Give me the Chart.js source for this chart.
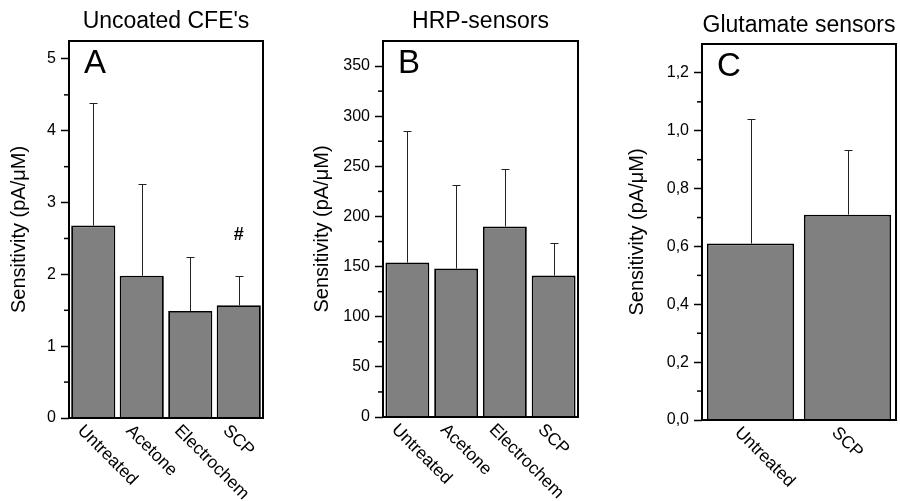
<!DOCTYPE html>
<html lang="en">
<head>
<meta charset="UTF-8">
<title>Sensitivity</title>
<script src="https://cdn.jsdelivr.net/npm/chart.js"></script>
<style>
  body { margin: 0; background: #fff; }
  #wrap { position: relative; width: 900px; height: 501px; }
  canvas { position: absolute; top: 0; }
</style>
</head>
<body>
<div id="wrap">
  <canvas id="chartA" width="300" height="501" style="left:0px"></canvas>
  <canvas id="chartB" width="300" height="501" style="left:300px"></canvas>
  <canvas id="chartC" width="300" height="501" style="left:600px"></canvas>
</div>
<script>
// Panel A - uncoated carbon fibre electrodes
const catsA = ['Untreated', 'Acetone', 'Electrochem', 'SCP'];
const meanA = [2.68, 1.98, 1.49, 1.57];
const sdA = [1.70, 1.28, 0.75, 0.41];
const ticksA = [0, 1, 2, 3, 4, 5];
const hashA = { index: 3, value: 2.55 }; // "#" above SCP

// Panel B - HRP sensors
const catsB = ['Untreated', 'Acetone', 'Electrochem', 'SCP'];
const meanB = [154, 148, 190, 141];
const sdB = [131, 83, 57, 33];
const ticksB = [0, 50, 100, 150, 200, 250, 300, 350];

// Panel C - glutamate sensors
const catsC = ['Untreated', 'SCP'];
const meanC = [0.61, 0.71];
const sdC = [0.43, 0.225];
const ticksC = [0, 0.2, 0.4, 0.6, 0.8, 1.0, 1.2];

const FONT = 'Arial, "Liberation Sans", sans-serif';
Chart.defaults.font.family = FONT;
Chart.defaults.color = '#000';

// error bars, minor ticks, frame, rotated labels, panel letter
const deco = {
  id: 'deco',
  afterDatasetsDraw(chart, args, o) {
    const ctx = chart.ctx;
    const a = chart.chartArea;
    const x = chart.scales.x, y = chart.scales.y;
    const means = chart.data.datasets[0].data;
    ctx.save();

    // upper error bars
    ctx.strokeStyle = '#222';
    ctx.lineWidth = 1;
    means.forEach((m, i) => {
      const px = Math.round(x.getPixelForValue(i)) + 0.5;
      const y0 = y.getPixelForValue(m);
      const y1 = Math.round(y.getPixelForValue(m + o.sd[i])) + 0.5;
      ctx.beginPath();
      ctx.moveTo(px, y0);
      ctx.lineTo(px, y1);
      ctx.moveTo(px - 4, y1);
      ctx.lineTo(px + 4, y1);
      ctx.stroke();
    });

    // minor ticks half way between labelled ones
    ctx.strokeStyle = '#000';
    ctx.lineWidth = 1.5;
    for (let i = 0; i < o.ticks.length - 1; i++) {
      const py = y.getPixelForValue((o.ticks[i] + o.ticks[i + 1]) / 2);
      ctx.beginPath();
      ctx.moveTo(a.left - 5, py);
      ctx.lineTo(a.left, py);
      ctx.stroke();
    }

    // frame round the plot
    ctx.lineWidth = 2;
    ctx.strokeRect(a.left, a.top, a.right - a.left, a.bottom - a.top);

    // category labels turned 45 degrees clockwise
    ctx.fillStyle = '#000';
    ctx.font = '17.5px ' + FONT;
    ctx.textAlign = 'left';
    ctx.textBaseline = 'middle';
    chart.data.labels.forEach((lab, i) => {
      ctx.save();
      ctx.translate(x.getPixelForValue(i) - 13, a.bottom + 10);
      ctx.rotate(Math.PI / 4);
      ctx.fillText(lab, 0, 0);
      ctx.restore();
    });

    // panel letter
    ctx.font = '33px ' + FONT;
    ctx.textBaseline = 'alphabetic';
    ctx.fillText(o.letter, a.left + 15, a.top + 32);

    if (o.hash) {
      ctx.font = 'bold 18px ' + FONT;
      ctx.textAlign = 'center';
      ctx.textBaseline = 'middle';
      ctx.fillText('#', x.getPixelForValue(o.hash.index), y.getPixelForValue(o.hash.value));
    }
    ctx.restore();
  }
};

function makePanel(id, cats, means, sds, ticks, p) {
  const ctx = document.getElementById(id).getContext('2d');
  return new Chart(ctx, {
    type: 'bar',
    data: {
      labels: cats,
      datasets: [{
        data: means,
        backgroundColor: '#808080',
        borderColor: '#000',
        borderWidth: 1.8,
        barPercentage: p.barPct,
        categoryPercentage: 1
      }]
    },
    options: {
      responsive: false,
      animation: false,
      layout: { padding: { left: 0, right: p.right, top: 0, bottom: 0 } },
      plugins: {
        legend: { display: false },
        tooltip: { enabled: false },
        title: {
          display: true,
          text: p.title,
          fullSize: false,
          color: '#000',
          font: { size: 23, weight: 'normal' },
          padding: { top: p.titleTop, bottom: p.titleBottom }
        },
        deco: { sd: sds, ticks: ticks, letter: p.letter, hash: p.hash }
      },
      scales: {
        x: {
          afterFit: s => { s.height = p.xHeight; },
          ticks: { display: false },
          grid: { display: false },
          border: { display: false }
        },
        y: {
          min: 0,
          max: p.max,
          afterFit: s => { s.width = p.yWidth; },
          afterBuildTicks: s => { s.ticks = ticks.map(v => ({ value: v })); },
          ticks: {
            color: '#000',
            padding: 5,
            font: { size: 16 },
            callback: p.fmt
          },
          grid: {
            drawOnChartArea: false,
            tickLength: 8,
            tickColor: '#000',
            tickWidth: 1.5
          },
          border: { display: false },
          title: {
            display: true,
            text: 'Sensitivity (pA/μM)',
            color: '#000',
            font: { size: 20 },
            padding: { top: p.yTitlePad, bottom: 0 }
          }
        }
      }
    },
    plugins: [deco]
  });
}

makePanel('chartA', catsA, meanA, sdA, ticksA, {
  title: "Uncoated CFE's", letter: 'A', hash: hashA, max: 5.25,
  right: 37, yWidth: 69, xHeight: 83, titleTop: 8, titleBottom: 5.4, yTitlePad: 7,
  barPct: 0.91, fmt: v => String(v)
});

makePanel('chartB', catsB, meanB, sdB, ticksB, {
  title: 'HRP-sensors', letter: 'B', hash: null, max: 375,
  right: 22, yWidth: 83, xHeight: 84, titleTop: 8, titleBottom: 5.4, yTitlePad: 10,
  barPct: 0.9, fmt: v => String(v)
});

makePanel('chartC', catsC, meanC, sdC, ticksC, {
  title: 'Glutamate sensors', letter: 'C', hash: null, max: 1.3,
  right: 4, yWidth: 102, xHeight: 81, titleTop: 12, titleBottom: 4.4, yTitlePad: 25,
  barPct: 0.9, fmt: v => v.toFixed(1).replace('.', ',')
});
</script>
</body>
</html>
